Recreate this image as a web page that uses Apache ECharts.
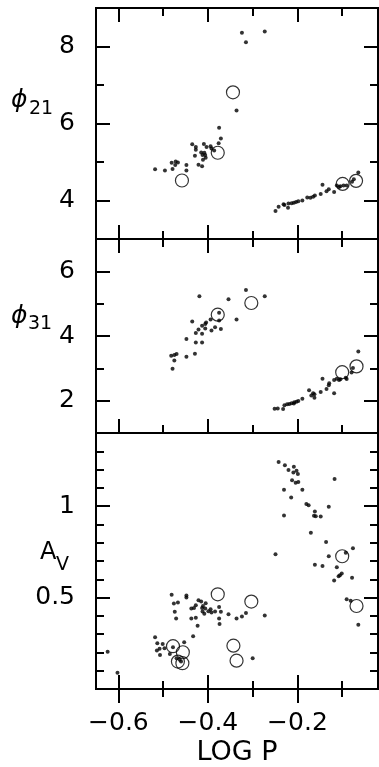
<!DOCTYPE html>
<html>
<head>
<meta charset="utf-8">
<script src="https://cdn.jsdelivr.net/npm/echarts@6/dist/echarts.min.js"></script>
<style>
  html, body { margin: 0; padding: 0; background: #fff; }
  #chart { width: 379px; height: 767px; }
</style>
</head>
<body>
<div id="chart"></div>
<script>
// shared x axis (log P)
const xRange = [-0.65, -0.02]
const xMajorTicks = [-0.6, -0.4, -0.2]
const xMinorTicks = [-0.5, -0.3, -0.1]

// phi21 panel
const phi21Range = [3, 9]
const phi21Major = [4, 6, 8]
const phi21Minor = [5, 7]
const phi21Dots = [
  [-0.324, 8.36], [-0.273, 8.39], [-0.315, 8.11], [-0.336, 6.34], [-0.375, 5.89],
  [-0.371, 5.61], [-0.376, 5.49], [-0.435, 5.46], [-0.427, 5.39], [-0.427, 5.32],
  [-0.409, 5.47], [-0.403, 5.39], [-0.394, 5.41], [-0.392, 5.35], [-0.386, 5.30],
  [-0.415, 5.25], [-0.408, 5.24], [-0.412, 5.18], [-0.406, 5.18], [-0.429, 5.16],
  [-0.405, 5.11], [-0.411, 5.06], [-0.421, 4.93], [-0.413, 4.89], [-0.481, 4.98],
  [-0.472, 5.01], [-0.467, 4.99], [-0.473, 4.92], [-0.448, 4.92], [-0.448, 4.78],
  [-0.479, 4.82], [-0.496, 4.78], [-0.518, 4.81],
  [-0.249, 3.73], [-0.242, 3.84], [-0.231, 3.90], [-0.229, 3.88], [-0.221, 3.81],
  [-0.220, 3.92], [-0.213, 3.93], [-0.208, 3.94], [-0.203, 3.96], [-0.198, 3.98],
  [-0.189, 4.00], [-0.178, 4.08], [-0.171, 4.07], [-0.165, 4.10], [-0.161, 4.13],
  [-0.148, 4.17], [-0.144, 4.41], [-0.135, 4.24], [-0.130, 4.29], [-0.118, 4.22],
  [-0.112, 4.39], [-0.107, 4.35], [-0.104, 4.37], [-0.097, 4.39], [-0.090, 4.39],
  [-0.078, 4.49], [-0.074, 4.55], [-0.064, 4.73]
]
const phi21Circles = [
  [-0.458, 4.52], [-0.378, 5.24], [-0.344, 6.81], [-0.099, 4.43], [-0.069, 4.51]
]

// phi31 panel
const phi31Range = [1, 7]
const phi31Major = [2, 4, 6]
const phi31Minor = [3, 5]
const phi31Dots = [
  [-0.419, 5.23], [-0.315, 5.42], [-0.273, 5.23], [-0.354, 5.14], [-0.375, 4.72],
  [-0.336, 4.51], [-0.435, 4.45], [-0.394, 4.51], [-0.404, 4.42], [-0.406, 4.37],
  [-0.413, 4.32], [-0.421, 4.20], [-0.406, 4.23], [-0.427, 4.09], [-0.413, 4.07],
  [-0.392, 4.17], [-0.384, 4.27], [-0.375, 4.48], [-0.371, 4.22], [-0.448, 3.91],
  [-0.427, 3.80], [-0.413, 3.80], [-0.482, 3.39], [-0.475, 3.41], [-0.470, 3.44],
  [-0.475, 3.24], [-0.448, 3.36], [-0.429, 3.45], [-0.479, 2.99],
  [-0.251, 1.75], [-0.244, 1.76], [-0.232, 1.74], [-0.229, 1.86], [-0.223, 1.89],
  [-0.218, 1.90], [-0.213, 1.92], [-0.207, 1.95], [-0.202, 1.97], [-0.198, 1.99],
  [-0.208, 1.91], [-0.189, 2.06], [-0.174, 2.32], [-0.169, 2.16], [-0.165, 2.23],
  [-0.162, 2.09], [-0.162, 2.20], [-0.148, 2.27], [-0.144, 2.68], [-0.135, 2.36],
  [-0.130, 2.48], [-0.129, 2.54], [-0.118, 2.23], [-0.118, 2.64], [-0.112, 2.68],
  [-0.107, 2.64], [-0.104, 2.66], [-0.092, 2.71], [-0.090, 2.67], [-0.079, 2.87],
  [-0.076, 3.01], [-0.064, 3.52]
]
const phi31Circles = [
  [-0.378, 4.66], [-0.303, 5.02], [-0.100, 2.88], [-0.068, 3.06]
]

// amplitude panel
const avRange = [0, 1.4]
const avMajor = [0.5, 1]
const avMinor = [0.1, 0.2, 0.3, 0.4, 0.6, 0.7, 0.8, 0.9, 1.1, 1.2, 1.3]
const avDots = [
  [-0.242, 1.242], [-0.228, 1.224], [-0.208, 1.215], [-0.220, 1.197], [-0.209, 1.184],
  [-0.202, 1.193], [-0.199, 1.176], [-0.212, 1.141], [-0.204, 1.128], [-0.198, 1.132],
  [-0.117, 1.148], [-0.230, 1.089], [-0.189, 1.089], [-0.214, 1.047], [-0.180, 1.012],
  [-0.175, 1.005], [-0.130, 0.996], [-0.161, 0.971], [-0.163, 0.947], [-0.159, 0.945],
  [-0.148, 0.943], [-0.230, 0.949], [-0.170, 0.855], [-0.136, 0.804], [-0.249, 0.737],
  [-0.130, 0.726], [-0.076, 0.770], [-0.092, 0.745], [-0.161, 0.679], [-0.144, 0.672],
  [-0.112, 0.666], [-0.101, 0.632], [-0.105, 0.622], [-0.108, 0.617], [-0.118, 0.594],
  [-0.078, 0.609], [-0.090, 0.491], [-0.081, 0.483], [-0.064, 0.351],
  [-0.481, 0.516], [-0.476, 0.467], [-0.467, 0.473], [-0.448, 0.500], [-0.448, 0.512],
  [-0.474, 0.422], [-0.421, 0.485], [-0.415, 0.478], [-0.427, 0.458], [-0.405, 0.469],
  [-0.411, 0.454], [-0.437, 0.440], [-0.431, 0.443], [-0.413, 0.443], [-0.406, 0.440],
  [-0.394, 0.436], [-0.399, 0.425], [-0.412, 0.424], [-0.408, 0.411], [-0.384, 0.424],
  [-0.375, 0.449], [-0.371, 0.422], [-0.392, 0.418], [-0.354, 0.409], [-0.315, 0.416],
  [-0.324, 0.397], [-0.273, 0.402], [-0.471, 0.386], [-0.437, 0.386], [-0.427, 0.390],
  [-0.375, 0.386], [-0.336, 0.386], [-0.374, 0.355], [-0.423, 0.346], [-0.433, 0.288],
  [-0.518, 0.283], [-0.513, 0.250], [-0.501, 0.246], [-0.497, 0.223], [-0.508, 0.220],
  [-0.514, 0.210], [-0.507, 0.186], [-0.485, 0.192], [-0.478, 0.228], [-0.453, 0.255],
  [-0.470, 0.168], [-0.463, 0.160], [-0.460, 0.150], [-0.300, 0.168], [-0.624, 0.204],
  [-0.602, 0.089]
]
const avCircles = [
  [-0.100, 0.726], [-0.068, 0.454], [-0.378, 0.518], [-0.303, 0.478], [-0.478, 0.234],
  [-0.456, 0.201], [-0.467, 0.150], [-0.457, 0.141], [-0.343, 0.237], [-0.336, 0.155]
]

const FONT = 'DejaVu Sans'
const panels = [
  { range: phi21Range, major: phi21Major, minor: phi21Minor, dots: phi21Dots, circles: phi21Circles },
  { range: phi31Range, major: phi31Major, minor: phi31Minor, dots: phi31Dots, circles: phi31Circles },
  { range: avRange, major: avMajor, minor: avMinor, dots: avDots, circles: avCircles }
]
const grids = [
  { left: 96, right: 1, top: 8, height: 231 },
  { left: 96, right: 1, top: 239, height: 194 },
  { left: 96, right: 1, top: 433, height: 256 }
]

function tickAxis(g, position, min, max, values, len, label) {
  return {
    type: 'value', gridIndex: g, position, min, max,
    axisLine: { show: false },
    splitLine: { show: false },
    axisTick: { show: true, inside: true, length: len, customValues: values,
      lineStyle: { color: '#000', width: 2 } },
    axisLabel: label || { show: false }
  }
}

const xAxis = []
const yAxis = []
const series = []
panels.forEach((p, g) => {
  const last = g === panels.length - 1
  let xLabel = null
  if (last) {
    xLabel = { show: true, customValues: xMajorTicks, margin: 22, color: '#000',
      fontSize: 25, fontFamily: FONT,
      formatter: v => String(v).replace('-', '\u2212') }
  }
  const xb = tickAxis(g, 'bottom', xRange[0], xRange[1], xMajorTicks, 14, xLabel)
  if (last) {
    xb.name = 'LOG P'
    xb.nameLocation = 'middle'
    xb.nameGap = 50
    xb.nameTextStyle = { fontSize: 27, fontFamily: FONT, color: '#000' }
  }
  xAxis.push(xb,
    tickAxis(g, 'bottom', xRange[0], xRange[1], xMinorTicks, 8),
    tickAxis(g, 'top', xRange[0], xRange[1], xMajorTicks, 14),
    tickAxis(g, 'top', xRange[0], xRange[1], xMinorTicks, 8))
  const yLabel = { show: true, customValues: p.major, margin: 21, color: '#000',
    fontSize: 25, fontFamily: FONT }
  yAxis.push(tickAxis(g, 'left', p.range[0], p.range[1], p.major, 14, yLabel),
    tickAxis(g, 'left', p.range[0], p.range[1], p.minor, 8),
    tickAxis(g, 'right', p.range[0], p.range[1], p.major, 14),
    tickAxis(g, 'right', p.range[0], p.range[1], p.minor, 8))
  series.push({
    type: 'scatter', xAxisIndex: g * 4, yAxisIndex: g * 4,
    data: p.dots, symbol: 'circle', symbolSize: 4,
    itemStyle: { color: '#000' }, silent: true
  }, {
    type: 'scatter', xAxisIndex: g * 4, yAxisIndex: g * 4,
    data: p.circles, symbol: 'circle', symbolSize: 13,
    itemStyle: { color: 'rgba(0,0,0,0)', borderColor: '#000', borderWidth: 1.2 }, silent: true
  })
})

function label(x, y, text, size, italic) {
  return { type: 'text', x, y, silent: true,
    style: { text, fill: '#000', fontSize: size, fontFamily: FONT,
      fontStyle: italic ? 'italic' : 'normal', align: 'left', verticalAlign: 'middle' } }
}

const chart = echarts.init(document.getElementById('chart'))
chart.setOption({
  animation: false,
  backgroundColor: '#fff',
  grid: grids.map(r => Object.assign({ show: true, borderColor: '#000', borderWidth: 2,
    backgroundColor: 'transparent' }, r)),
  xAxis,
  yAxis,
  series,
  graphic: [
    label(11, 100, '\u03d5', 25, true), label(29, 109, '21', 19),
    label(11, 316, '\u03d5', 25, true), label(28, 324, '31', 19),
    label(40, 553, 'A', 24), label(56, 565, 'V', 19)
  ]
})
</script>
</body>
</html>
